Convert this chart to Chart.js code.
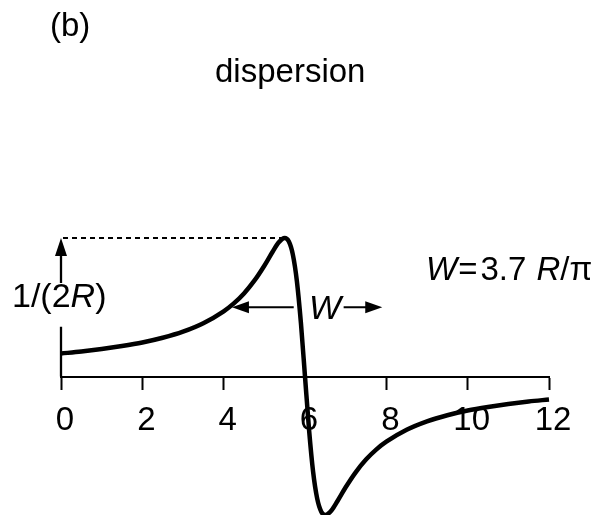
<!DOCTYPE html>
<html>
<head>
<meta charset="utf-8">
<script src="https://cdn.jsdelivr.net/npm/chart.js@4/dist/chart.umd.min.js"></script>
<style>
  html, body { margin: 0; padding: 0; background: #fff; }
  #wrap { width: 595px; height: 515px; position: relative; }
</style>
</head>
<body>
<div id="wrap"><canvas id="chart"></canvas></div>
<script>
// ------------------------------------------------------------
// data
// ------------------------------------------------------------
const xValues = [0, 0.5, 1, 1.5, 2, 2.5, 3, 3.5, 4, 4.25, 4.5, 4.75, 5, 5.2, 5.35, 5.5,
  5.6, 5.7, 5.8, 5.9, 6, 6.1, 6.2, 6.3, 6.4, 6.5, 6.65, 6.8, 7, 7.25, 7.5, 7.75,
  8, 8.5, 9, 9.5, 10, 10.5, 11, 11.5, 12];
const dispersion = [0.166, 0.180, 0.198, 0.220, 0.246, 0.280, 0.324, 0.385, 0.471, 0.528, 0.600, 0.690, 0.800, 0.899, 0.967, 1.000,
  0.976, 0.882, 0.690, 0.385, 0, -0.385, -0.690, -0.882, -0.976, -1.000, -0.967, -0.899, -0.800, -0.690, -0.600, -0.528,
  -0.471, -0.385, -0.324, -0.280, -0.246, -0.220, -0.198, -0.180, -0.166];
const xTicks = [0, 2, 4, 6, 8, 10, 12];

// marker geometry (data units)
const peakX = 5.5, peakY = 1.0;
const halfY = 0.5, halfLeft = 4.13, halfRight = 5.87;
const wArrowFrom = 6.95, wArrowTo = 7.9;
const gapLow = 0.36, gapHigh = 0.675;

const FONT = "'Liberation Sans', Arial, Helvetica, sans-serif";

// mixed upright / italic text, optional extra gap after a part
function drawRich(ctx, parts, x, y, size) {
  let cx = x;
  parts.forEach(([txt, italic, gap]) => {
    ctx.font = (italic ? 'italic ' : '') + size + 'px ' + FONT;
    ctx.fillText(txt, cx, y);
    cx += ctx.measureText(txt).width + (gap || 0);
  });
}

function arrowHead(ctx, tipX, tipY, dir, len, half) {
  ctx.beginPath();
  if (dir === 'up') {
    ctx.moveTo(tipX, tipY);
    ctx.lineTo(tipX - half, tipY + len);
    ctx.lineTo(tipX + half, tipY + len);
  } else if (dir === 'left') {
    ctx.moveTo(tipX, tipY);
    ctx.lineTo(tipX + len, tipY - half);
    ctx.lineTo(tipX + len, tipY + half);
  } else {
    ctx.moveTo(tipX, tipY);
    ctx.lineTo(tipX - len, tipY - half);
    ctx.lineTo(tipX - len, tipY + half);
  }
  ctx.closePath();
  ctx.fill();
}

const annotate = {
  id: 'annotate',
  beforeDatasetsDraw(chart) {
    const { ctx, scales: { x, y } } = chart;
    const px = v => x.getPixelForValue(v);
    const py = v => y.getPixelForValue(v);
    ctx.save();
    ctx.strokeStyle = '#000';
    ctx.fillStyle = '#000';
    ctx.lineWidth = 2;

    // dotted level of the maximum
    ctx.setLineDash([5, 4]);
    ctx.beginPath();
    ctx.moveTo(px(0) + 2, py(peakY));
    ctx.lineTo(px(peakX), py(peakY));
    ctx.stroke();
    ctx.setLineDash([]);

    // vertical arrow at x = 0, broken by its label
    ctx.lineWidth = 2.3;
    ctx.beginPath();
    ctx.moveTo(px(0), py(0));
    ctx.lineTo(px(0), py(gapLow));
    ctx.moveTo(px(0), py(gapHigh));
    ctx.lineTo(px(0), py(peakY) + 14);
    ctx.stroke();
    arrowHead(ctx, px(0), py(peakY), 'up', 18, 6);

    // width arrows
    ctx.lineWidth = 2;
    const yh = py(halfY);
    ctx.beginPath();
    ctx.moveTo(px(halfRight) - 6, yh);
    ctx.lineTo(px(halfLeft) + 14, yh);
    ctx.moveTo(px(wArrowFrom), yh);
    ctx.lineTo(px(wArrowTo) - 14, yh);
    ctx.stroke();
    arrowHead(ctx, px(halfLeft) + 3, yh, 'left', 17, 6);
    arrowHead(ctx, px(wArrowTo), yh, 'right', 17, 6);

    // texts
    ctx.textBaseline = 'alphabetic';
    ctx.textAlign = 'left';
    drawRich(ctx, [['(b)', false]], 50, 36, 33);
    drawRich(ctx, [['dispersion', false]], 215, 82, 33);
    drawRich(ctx, [['1/(2', false], ['R', true], [')', false]], 12, 307, 34);
    drawRich(ctx, [['W', true]], 309, 319, 34);
    drawRich(ctx, [['W', true, 1], ['=', false, 3], ['3.7 ', false, 1], ['R', true], ['/\u03c0', false]], 426, 280, 33);
    ctx.restore();
  }
};

const points = xValues.map((v, i) => ({ x: v, y: dispersion[i] }));

new Chart(document.getElementById('chart'), {
  type: 'line',
  data: {
    datasets: [{
      label: 'dispersion',
      data: points,
      borderColor: '#000',
      borderWidth: 4.5,
      pointRadius: 0,
      cubicInterpolationMode: 'monotone',
      fill: false,
      clip: false,
    }],
  },
  options: {
    responsive: true,
    maintainAspectRatio: false,
    animation: false,
    events: [],
    layout: { padding: { left: 61, right: 46, top: 238, bottom: 0 } },
    plugins: {
      legend: { display: false },
      tooltip: { enabled: false },
    },
    scales: {
      x: {
        type: 'linear',
        min: 0,
        max: 12,
        position: { y: 0 },
        afterBuildTicks: s => { s.ticks = xTicks.map(v => ({ value: v })); },
        grid: { drawOnChartArea: false, drawTicks: true, tickLength: 12, tickWidth: 2, tickColor: '#000' },
        border: { display: true, color: '#000', width: 2 },
        ticks: {
          color: '#000',
          font: { family: FONT, size: 33 },
          padding: 13,
          labelOffset: 4,
          autoSkip: false,
          maxRotation: 0,
        },
      },
      y: {
        display: false,
        min: -1,
        max: 1,
      },
    },
  },
  plugins: [annotate],
});
</script>
</body>
</html>
